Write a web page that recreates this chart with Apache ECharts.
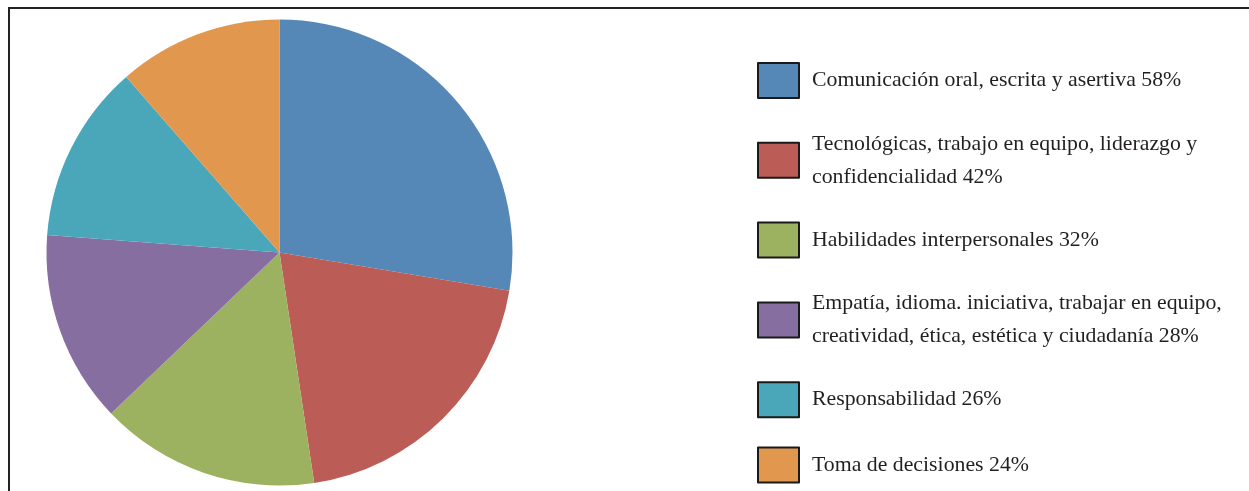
<!DOCTYPE html>
<html>
<head>
<meta charset="utf-8">
<script src="https://cdn.jsdelivr.net/npm/echarts@6/dist/echarts.min.js"></script>
<style>
html,body{margin:0;padding:0;background:#fff;}
#chart{width:1249px;height:491px;}
</style>
</head>
<body>
<div id="chart"></div>
<script>
const categories = [
  'Comunicación oral, escrita y asertiva 58%',
  'Tecnológicas, trabajo en equipo, liderazgo y\nconfidencialidad 42%',
  'Habilidades interpersonales 32%',
  'Empatía, idioma. iniciativa, trabajar en equipo,\ncreatividad, ética, estética y ciudadanía 28%',
  'Responsabilidad 26%',
  'Toma de decisiones 24%'
];
const values = [58, 42, 32, 28, 26, 24];
const colors = ['#5588B7', '#BB5C56', '#9DB260', '#866FA0', '#4AA7BA', '#E2974E'];

const chart = echarts.init(document.getElementById('chart'), null, {renderer: 'canvas'});
chart.setOption({
  animation: false,
  color: colors,
  legend: {
    orient: 'vertical',
    left: 757,
    top: 62,
    bottom: 0,
    padding: 0,
    itemWidth: 41,
    itemHeight: 35,
    itemGap: 28.3,
    icon: 'rect',
    align: 'left',
    itemStyle: {borderColor: '#1a1a1a', borderWidth: 2},
    textStyle: {
      fontFamily: 'Liberation Serif, Times New Roman, serif',
      fontSize: 21.8,
      color: '#231f20',
      lineHeight: 33,
      padding: [0, 0, 0, 8]
    },
    data: categories
  },
  series: [{
    type: 'pie',
    center: [279.5, 252.5],
    radius: [0, 233],
    startAngle: 90,
    clockwise: true,
    label: {show: false},
    labelLine: {show: false},
    itemStyle: {borderWidth: 0},
    emphasis: {disabled: true},
    data: categories.map((c, i) => ({name: c, value: values[i]}))
  }],
  graphic: [
    {type: 'line', shape: {x1: 9, y1: 8, x2: 1249, y2: 8}, style: {stroke: '#222', lineWidth: 2}},
    {type: 'line', shape: {x1: 9, y1: 7, x2: 9, y2: 491}, style: {stroke: '#222', lineWidth: 2}}
  ]
});
</script>
</body>
</html>
